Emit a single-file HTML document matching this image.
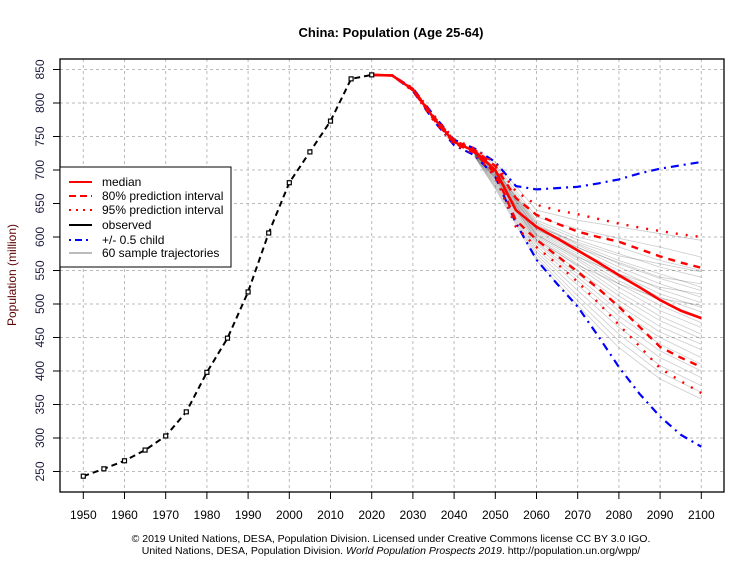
<!DOCTYPE html>
<html><head><meta charset="utf-8"><style>
body{margin:0;background:#fff;width:755px;height:566px;overflow:hidden}
text{font-family:"Liberation Sans",Arial,sans-serif}
</style></head><body>
<svg id="chart" width="755" height="566" viewBox="0 0 755 566" xmlns="http://www.w3.org/2000/svg">
<rect width="755" height="566" fill="#fff"/>
<text x="391" y="37" text-anchor="middle" font-size="13" font-weight="bold">China: Population (Age 25-64)</text>
<g id="grid"></g>
<g id="marks"></g>
<rect x="60" y="59" width="664" height="433" fill="none" stroke="#000" stroke-width="1.3"/>
<g id="axes"></g>
<text transform="translate(16,275) rotate(-90)" text-anchor="middle" font-size="12" fill="#5a0000">Population (million)</text>
<g>
<rect x="60" y="167" width="171" height="100" fill="#fff" stroke="#000" stroke-width="1"/>
<g><line x1="69" y1="182" x2="92" y2="182" stroke="red" stroke-width="2"/><text x="102" y="186" font-size="12">median</text></g>
<g><line x1="69" y1="196" x2="92" y2="196" stroke="red" stroke-width="2" stroke-dasharray="7,4"/><text x="102" y="200" font-size="12">80% prediction interval</text></g>
<g><line x1="69" y1="210" x2="92" y2="210" stroke="red" stroke-width="2" stroke-dasharray="2,5"/><text x="102" y="214" font-size="12">95% prediction interval</text></g>
<g><line x1="69" y1="225" x2="92" y2="225" stroke="#000" stroke-width="2"/><text x="102" y="229" font-size="12">observed</text></g>
<g><line x1="69" y1="240" x2="92" y2="240" stroke="blue" stroke-width="2" stroke-dasharray="2,4,7,4"/><text x="102" y="244" font-size="12">+/- 0.5 child</text></g>
<g><line x1="69" y1="253" x2="92" y2="253" stroke="#bbb" stroke-width="2"/><text x="102" y="257" font-size="12">60 sample trajectories</text></g>
</g>
<text x="391" y="542" text-anchor="middle" font-size="10.5">© 2019 United Nations, DESA, Population Division. Licensed under Creative Commons license CC BY 3.0 IGO.</text>
<text x="391" y="554" text-anchor="middle" font-size="10.5">United Nations, DESA, Population Division. <tspan font-style="italic">World Population Prospects 2019</tspan>. http://population.un.org/wpp/</text>
</svg>
<script>
const obsYears=[1950,1955,1960,1965,1970,1975,1980,1985,1990,1995,2000,2005,2010,2015,2020];
const obsValues=[243,254,266,282,303,339,398,449,518,606,681,727,773,836,842];
const projYears=[2020,2025,2030,2035,2040,2045,2050,2055,2060,2065,2070,2075,2080,2085,2090,2095,2100];
const median=[842,841,820,778,742,728,700,640,615,598,580,562,543,525,506,490,479];
const pi80Upper=[842,841,821,780,744,730,706,658,633,620,608,600,593,582,571,562,554];
const pi80Lower=[842,841,819,776,740,726,695,625,596,572,548,523,496,466,436,420,406];
const pi95Upper=[842,841,822,782,746,732,710,668,648,640,634,627,620,614,609,604,600];
const pi95Lower=[842,841,818,774,738,724,690,615,585,560,533,502,469,437,404,385,367];
const childUpper=[842,841,822,782,745,732,712,676,671,673,675,680,686,695,702,707,712];
const childLower=[842,841,818,774,737,722,690,621,566,530,496,452,406,366,332,305,287];
const trajYears=[2045,2050,2060,2070,2080,2090,2100];
const trajectories=[
[730,712,640,625,615,605,595],[729,708,630,612,598,585,570],[728,705,625,600,585,565,550],[728,702,622,596,575,555,540],
[727,700,620,590,565,545,525],[727,700,618,588,560,538,520],[727,698,615,585,555,530,510],[726,698,612,580,550,522,502],
[726,696,610,578,545,515,495],[726,695,608,575,540,510,488],[725,694,606,572,535,505,480],[725,693,604,568,530,498,472],
[725,692,602,565,525,490,465],[724,690,600,560,518,482,455],[724,689,598,556,512,475,448],[724,688,595,550,505,466,440],
[723,686,592,545,498,458,432],[723,684,590,540,490,450,420],[722,682,586,535,482,440,410],[722,680,582,528,474,430,400],
[721,678,578,520,465,420,390],[721,676,574,512,455,408,378],[720,674,570,505,445,398,368],[720,672,565,498,435,388,358],
[728,701,616,592,572,560,548],[727,697,611,584,562,540,530],[726,691,603,570,545,525,515],[725,687,596,558,530,508,498]];
const xTicks=[1950,1960,1970,1980,1990,2000,2010,2020,2030,2040,2050,2060,2070,2080,2090,2100];
const yTicks=[250,300,350,400,450,500,550,600,650,700,750,800,850];
const NS="http://www.w3.org/2000/svg";
const X=y=>83.3+(y-1950)*4.12;
const Y=v=>103+(800-v)*0.67;
function el(p,tag,a){const e=document.createElementNS(NS,tag);for(const k in a)e.setAttribute(k,a[k]);p.appendChild(e);return e;}
const grid=document.getElementById('grid'),marks=document.getElementById('marks'),axes=document.getElementById('axes');
xTicks.forEach(t=>{
 const g=el(grid,'line',{x1:X(t),x2:X(t),y1:59,y2:492,stroke:'#bbb','stroke-dasharray':'3,3'});
 
 
 const tk=el(axes,'line',{x1:X(t),x2:X(t),y1:492,y2:499,stroke:'#000'});
 
 
 const lb=el(axes,'text',{x:X(t),y:519,'text-anchor':'middle','font-size':12});
 
 
 lb.textContent=t;
});
yTicks.forEach(t=>{
 const g=el(grid,'line',{x1:60,x2:724,y1:Y(t),y2:Y(t),stroke:'#bbb','stroke-dasharray':'3,3'});
 
 
 const tk=el(axes,'line',{x1:53,x2:60,y1:Y(t),y2:Y(t),stroke:'#000'});
 
 
 const lb=el(axes,'text',{transform:`translate(44,${Y(t)}) rotate(-90)`,'text-anchor':'middle','font-size':12,fill:'#1a1a3a'});
 
 
 lb.textContent=t;
});
const pts=(ys,vs)=>ys.map((y,i)=>X(y).toFixed(1)+','+Y(vs[i]).toFixed(1)).join(' ');
trajectories.forEach(tr=>{
 const p=el(marks,'polyline',{points:pts(trajYears,tr),fill:'none',stroke:'#000','stroke-opacity':0.2,'stroke-width':0.8});
 
 
});
[[childUpper,'child-upper'],[childLower,'child-lower']].forEach(([s,n])=>{
 const p=el(marks,'polyline',{points:pts(projYears,s),fill:'none',stroke:'blue','stroke-width':2.2,'stroke-dasharray':'2,5,8,5'});
 
 
});
[[pi95Upper,'pi95-upper'],[pi95Lower,'pi95-lower']].forEach(([s,n])=>{
 const p=el(marks,'polyline',{points:pts(projYears,s),fill:'none',stroke:'red','stroke-width':2.4,'stroke-dasharray':'2,8'});
 
 
});
[[pi80Upper,'pi80-upper'],[pi80Lower,'pi80-lower']].forEach(([s,n])=>{
 const p=el(marks,'polyline',{points:pts(projYears,s),fill:'none',stroke:'red','stroke-width':2.4,'stroke-dasharray':'7,6'});
 
 
});
const md=el(marks,'polyline',{points:pts(projYears,median),fill:'none',stroke:'red','stroke-width':2.6});


const ob=el(marks,'polyline',{points:pts(obsYears,obsValues),fill:'none',stroke:'#000','stroke-width':2,'stroke-dasharray':'6,4'});


obsYears.forEach((y,i)=>{
 const r=el(marks,'rect',{x:X(y)-2,y:Y(obsValues[i])-2,width:4,height:4,fill:'#fff',stroke:'#000','stroke-width':1.2});
 
 
});
</script>
</body></html>
